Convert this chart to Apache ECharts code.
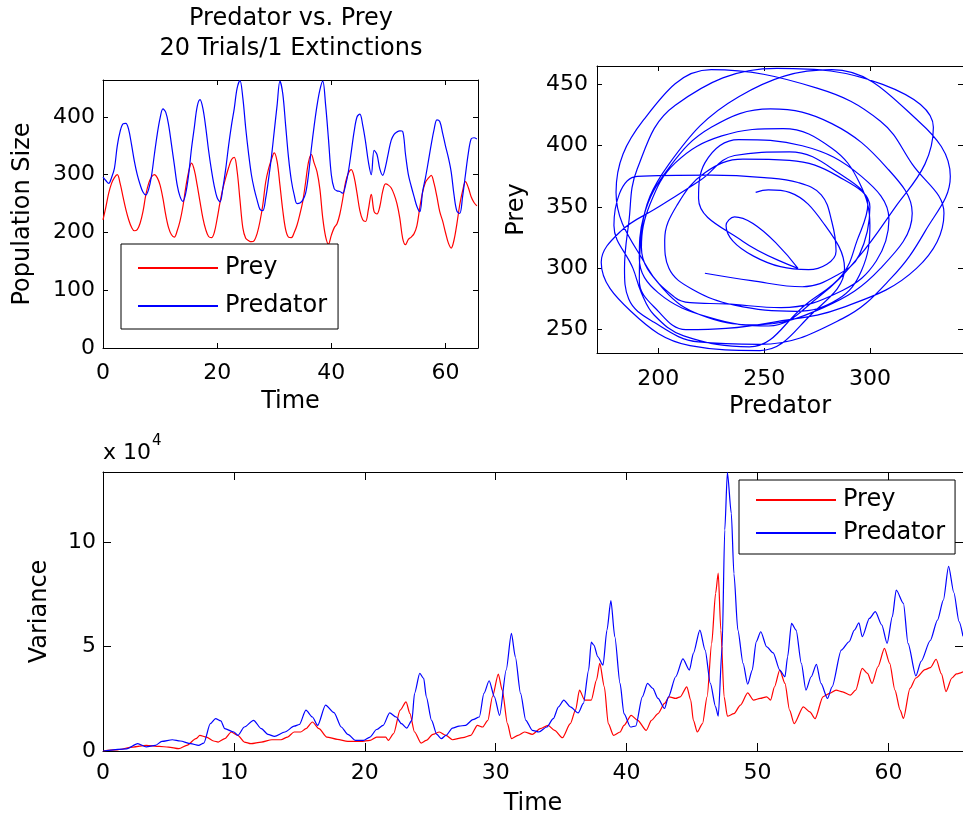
<!DOCTYPE html>
<html><head><meta charset="utf-8">
<script src="https://cdn.jsdelivr.net/npm/echarts@6/dist/echarts.min.js"></script>
<style>html,body{margin:0;padding:0;background:#fff;overflow:hidden}#c{width:963px;height:819px}</style>
</head><body><div id="c"></div>
<script>
// ---- population time series (common time grid) ----
const time = [0,0.5,1,1.5,2,2.5,3,3.5,4,4.5,5,5.5,6,6.5,7,7.5,8,8.5,9,9.5,
10,10.5,11,11.5,12,12.5,13,13.5,14,14.5,15,15.5,16,16.5,17,17.5,18,18.5,19,19.5,
20,20.5,21,21.5,22,22.5,23,23.5,24,24.5,25,25.5,26,26.5,27,27.5,28,28.5,29,29.5,
30,30.5,31,31.5,32,32.5,33,33.5,34,34.5,35,35.5,36,36.5,37,37.5,38,38.5,39,39.5,
40,40.5,41,41.5,42,42.5,43,43.5,44,44.5,45,45.5,46,46.5,47,47.5,48,48.5,49,49.5,
50,50.5,51,51.5,52,52.5,53,53.5,54,54.5,55,55.5,56,56.5,57,57.5,58,58.5,59,59.5,
60,60.5,61,61.5,62,62.5,63,63.5,64,64.5,65,65.5];
const preyPop = [222,244,268,285,295,300,285,262,240,222,
209,203,205,216,236,265,285,296,300,295,
282,259,230,208,196,192,203,220,245,278,
305,320,308,282,253,225,205,193,191,200,
224,252,276,295,312,326,330,306,256,208,
190,186,184,186,198,219,248,287,310,326,
338,323,282,238,205,192,191,200,213,232,
254,287,322,335,320,305,275,225,193,180,
195,208,215,232,258,287,303,309,296,268,
238,222,219,240,266,236,232,245,271,284,
282,277,266,250,225,190,179,188,192,198,
212,243,270,287,294,299,285,262,236,220,
200,182,173,187,215,248,272,288,278,262,
252,246];
const predPop = [296,290,285,295,311,350,375,388,389,378,
352,323,300,283,270,265,275,298,335,370,
398,414,408,386,352,317,282,262,254,268,
300,345,382,418,430,415,382,342,308,280,
260,253,277,310,350,385,415,450,463,433,
381,337,300,275,256,240,238,259,292,330,
375,420,462,440,385,330,290,265,250,251,
256,268,300,345,385,420,447,462,421,362,
300,276,272,271,268,282,306,340,375,400,
405,386,357,322,300,342,335,310,299,314,
338,360,370,374,376,375,335,300,280,262,
245,236,271,295,323,352,378,395,392,372,
350,330,305,265,237,233,262,300,337,362,
364,362];

// ---- variance (units of 10^4) ----
const varPreyTime = [0,1,2.3,3.3,4.3,5,5.8,6.4,7.1,7.4,7.9,8.45,8.8,9.3,9.8,10.3,10.8,11.3,12.1,12.9,
13.6,14.1,14.6,15.1,15.5,16,16.5,17.1,17.9,18.7,19.7,20.4,20.9,21.6,21.8,22.2,22.7,23.15,23.45,23.8,
24.3,24.7,25.2,25.7,26.2,26.7,27.5,28.1,28.6,29,29.4,29.75,30.2,30.5,30.9,31.2,31.7,32.2,32.8,33.4,
34,34.5,35.1,35.7,36.1,36.4,36.8,37.3,37.7,37.95,38.3,38.6,39,39.5,39.8,40.35,40.85,41.5,41.9,42.4,
42.9,43.25,43.75,44.1,44.6,44.9,45.1,45.4,45.8,46.15,46.5,46.8,47,47.2,47.45,47.7,48.2,48.7,49.25,49.7,
50.2,50.7,51,51.3,51.7,52.1,52.45,52.8,53.5,54,54.4,55,55.5,56,56.5,57.1,57.5,58,58.4,58.75,
59.2,59.7,60.1,60.5,60.9,61.15,61.65,62.1,62.8,63.2,63.65,64.05,64.4,64.85,65.2,65.7];
const varPrey = [0,0.05,0.19,0.27,0.22,0.19,0.11,0.27,0.59,0.75,0.67,0.48,0.43,0.59,0.91,0.75,0.43,0.35,0.43,0.54,
0.54,0.67,0.91,0.91,1.07,1.39,1.07,0.67,0.56,0.46,0.46,0.51,0.67,0.67,0.51,0.83,1.96,2.36,1.79,0.91,
0.38,0.51,0.8,0.91,0.75,0.54,0.64,0.75,1.23,1.15,1.47,2.6,3.69,2.92,1.31,0.59,0.75,0.91,0.8,1.07,
1.23,0.99,0.64,1.31,1.96,2.92,2.44,2.44,3.4,4.2,3.08,1.31,0.75,0.91,1.23,1.71,1.47,0.99,1.47,1.79,
2.28,2.6,2.52,2.6,3.08,2.44,1.47,0.91,1.31,2.6,5.16,7.56,8.53,5.8,2.6,1.67,1.79,2.2,2.79,2.44,
2.52,2.6,2.44,3.08,3.88,3.24,1.96,1.31,2.12,1.88,1.55,2.6,2.76,2.92,2.84,2.68,2.92,3.96,3.72,3.24,
4.04,4.92,4.2,2.92,1.96,1.56,3.0,3.5,3.9,4.0,4.4,3.7,2.85,3.5,3.7,3.8];
const varPredTime = [0,1.8,2.65,3.3,4,4.5,5.3,5.9,6.7,7.3,7.7,8.2,8.6,9,9.3,10,10.3,10.8,11.5,12.1,
12.6,13.1,13.9,14.6,15,15.5,16,16.4,17,17.65,18.2,18.7,19.3,19.9,20.4,20.9,21.4,21.9,22.4,22.8,
23.2,23.6,23.8,24.2,24.5,24.7,25.1,25.5,25.85,26.2,26.7,27.2,27.7,28.25,28.75,29.1,29.5,29.9,30.3,30.8,
31.2,31.5,31.9,32.3,32.8,33.3,33.9,34.4,34.8,35.2,35.7,36.3,36.7,37.1,37.3,37.5,37.8,38.2,38.5,38.8,
39.1,39.5,39.8,40.3,40.7,41.2,41.6,42,42.4,42.9,43.2,43.75,44.3,44.8,45.1,45.6,46,46.4,46.8,47,
47.3,47.5,47.7,48,48.2,48.5,48.9,49.25,49.6,49.9,50.25,50.7,51.2,51.7,52.1,52.3,52.6,52.95,53.35,53.7,
54.1,54.5,54.85,55.35,55.7,56.4,57,57.4,57.75,58,58.55,59,59.5,59.9,60.3,60.6,61.15,61.5,62.1,62.5,
63.2,63.75,64.2,64.6,65,65.4,65.7];
const varPred = [0,0.1,0.35,0.2,0.27,0.46,0.54,0.48,0.35,0.27,0.38,1.31,1.55,1.44,1.07,0.91,0.75,1.15,1.47,1.07,
0.8,0.7,0.91,1.19,1.27,1.96,1.63,1.23,2.2,1.84,1.15,0.8,0.51,0.51,0.67,1.03,1.23,1.83,1.63,1.31,
1.1,1.47,2.76,3.72,3.48,2.6,1.47,0.8,0.59,0.75,1.1,1.19,1.23,1.5,1.63,2.76,3.37,2.6,1.71,3.88,
5.64,4.52,2.76,1.47,0.99,0.91,1.15,1.55,2.12,2.44,2.12,1.83,2.28,3.88,5.22,5.08,4.52,4.12,5.8,7.21,
5.48,3.24,1.79,1.15,1.2,2.6,3.24,3.0,2.52,2.04,2.6,3.56,4.42,3.88,4.68,5.8,4.84,3.24,2.12,1.67,
5.0,10.6,13.36,11.4,8.5,5.8,4.2,3.2,3.88,5.24,5.72,5.0,4.71,3.88,3.56,4.52,6.12,5.8,4.2,2.92,
3.56,4.15,3.24,2.52,3.08,4.84,5.24,5.8,6.15,5.48,6.36,6.68,6.04,5.16,6.44,7.72,7.08,5.16,3.6,4.3,
5.3,6.28,7.24,8.85,7.6,6.2,5.5];

// ---- tick labels ----
const popTicks = [0,100,200,300,400];
const popTimeTicks = [0,20,40,60];
const phaseXTicks = [200,250,300];
const phaseYTicks = [250,300,350,400,450];
const varTimeTicks = [0,10,20,30,40,50,60];
const varTicks = [0,5,10];

const FONT = '"DejaVu Sans", "Liberation Sans", sans-serif';
const BLACK = '#000';
const RED = '#ff0000';
const BLUE = '#0000ff';

function mainAxis(o) {
  return Object.assign({
    type: 'value',
    splitLine: { show: false },
    axisLine: { show: true, onZero: false, lineStyle: { color: BLACK, width: 1 } },
    axisTick: { show: true, inside: true, length: o.tickLen, customValues: o.ticks, lineStyle: { color: BLACK } },
    axisLabel: { show: true, customValues: o.ticks, color: BLACK, fontSize: 22, fontFamily: FONT, margin: o.margin },
    nameLocation: 'middle',
    nameTextStyle: { color: BLACK, fontSize: 24, fontFamily: FONT }
  }, o.extra);
}
function mirrorAxis(o) {
  return Object.assign({
    type: 'value',
    splitLine: { show: false },
    axisLine: { show: true, onZero: false, lineStyle: { color: BLACK, width: 1 } },
    axisTick: { show: true, inside: true, length: o.tickLen, customValues: o.ticks, lineStyle: { color: BLACK } },
    axisLabel: { show: false }
  }, o.extra);
}

const tMax = 65.7;

const option = {
  animation: false,
  backgroundColor: '#fff',
  title: {
    text: 'Predator vs. Prey\n20 Trials/1 Extinctions',
    left: 291, top: 3.5, textAlign: 'center', padding: 0,
    textStyle: { fontSize: 24, fontWeight: 'normal', fontFamily: FONT, color: BLACK, lineHeight: 30 }
  },
  grid: [
    { left: 103, top: 80, width: 375, height: 268 },
    { left: 597, top: 66, width: 375, height: 287 },
    { left: 103, top: 472, width: 869, height: 279 }
  ],
  xAxis: [
    mainAxis({ ticks: popTimeTicks, tickLen: 5, margin: 14, extra: { gridIndex: 0, position: 'bottom', min: 0, max: tMax, name: 'Time', nameGap: 42 } }),
    mirrorAxis({ ticks: popTimeTicks, tickLen: 5, extra: { gridIndex: 0, position: 'top', min: 0, max: tMax } }),
    mainAxis({ ticks: phaseXTicks, tickLen: 5, margin: 15, extra: { gridIndex: 1, position: 'bottom', min: 171, max: 344, name: 'Predator', nameGap: 42 } }),
    mirrorAxis({ ticks: phaseXTicks, tickLen: 5, extra: { gridIndex: 1, position: 'top', min: 171, max: 344 } }),
    mainAxis({ ticks: varTimeTicks, tickLen: 8, margin: 11, extra: { gridIndex: 2, position: 'bottom', min: 0, max: tMax, name: 'Time', nameGap: 41 } }),
    mirrorAxis({ ticks: varTimeTicks, tickLen: 8, extra: { gridIndex: 2, position: 'top', min: 0, max: tMax } })
  ],
  yAxis: [
    mainAxis({ ticks: popTicks, tickLen: 5, margin: 8, extra: { gridIndex: 0, position: 'left', min: 0, max: 464, name: 'Population Size', nameGap: 68 } }),
    mirrorAxis({ ticks: popTicks, tickLen: 5, extra: { gridIndex: 0, position: 'right', min: 0, max: 464 } }),
    mainAxis({ ticks: phaseYTicks, tickLen: 5, margin: 9, extra: { gridIndex: 1, position: 'left', min: 231, max: 465, name: 'Prey', nameGap: 68 } }),
    mirrorAxis({ ticks: phaseYTicks, tickLen: 5, extra: { gridIndex: 1, position: 'right', min: 231, max: 465 } }),
    mainAxis({ ticks: varTicks, tickLen: 8, margin: 7, extra: { gridIndex: 2, position: 'left', min: 0, max: 13.38, name: 'Variance', nameGap: 51 } }),
    mirrorAxis({ ticks: varTicks, tickLen: 8, extra: { gridIndex: 2, position: 'right', min: 0, max: 13.38 } })
  ],
  legend: [
    {
      data: ['Prey', 'Predator'], orient: 'vertical', left: 121, top: 244,
      padding: [12, 11, 11, 16], itemGap: 14, itemWidth: 80, itemHeight: 14,
      borderColor: BLACK, borderWidth: 1, borderRadius: 0, backgroundColor: '#fff',
      selectedMode: false, itemStyle: { opacity: 0 },
      textStyle: { fontSize: 24, fontFamily: FONT, color: BLACK, padding: [0, 0, 0, 2] }
    },
    {
      data: ['Prey', 'Predator'], orient: 'vertical', left: 739, top: 480,
      padding: [8, 10, 9, 16], itemGap: 9, itemWidth: 80, itemHeight: 14,
      borderColor: BLACK, borderWidth: 1, borderRadius: 0, backgroundColor: '#fff',
      selectedMode: false, itemStyle: { opacity: 0 },
      textStyle: { fontSize: 24, fontFamily: FONT, color: BLACK, padding: [0, 0, 0, 2] }
    }
  ],
  graphic: [
    { type: 'text', x: 103, y: 453.5, style: { text: 'x 10', fontSize: 22, fontFamily: FONT, fill: BLACK, verticalAlign: 'middle' } },
    { type: 'text', x: 152, y: 441, style: { text: '4', fontSize: 15, fontFamily: FONT, fill: BLACK, verticalAlign: 'middle' } }
  ],
  series: [
    { name: 'Prey', type: 'line', xAxisIndex: 0, yAxisIndex: 0, symbol: 'none', color: RED, smooth: 0.35,
      lineStyle: { color: RED, width: 1.2 }, data: time.map((t, i) => [t, preyPop[i]]) },
    { name: 'Predator', type: 'line', xAxisIndex: 0, yAxisIndex: 0, symbol: 'none', color: BLUE, smooth: 0.35,
      lineStyle: { color: BLUE, width: 1.2 }, data: time.map((t, i) => [t, predPop[i]]) },
    { name: 'Phase', type: 'line', xAxisIndex: 2, yAxisIndex: 2, symbol: 'none', color: BLUE, smooth: 0.4,
      lineStyle: { color: BLUE, width: 1.2 }, data: preyPop.map((p, i) => [p, predPop[i]]) },
    { name: 'Prey', type: 'line', xAxisIndex: 4, yAxisIndex: 4, symbol: 'none', color: RED, smooth: 0.25, smoothMonotone: 'x',
      lineStyle: { color: RED, width: 1.2 }, data: varPreyTime.map((t, i) => [t, varPrey[i]]) },
    { name: 'Predator', type: 'line', xAxisIndex: 4, yAxisIndex: 4, symbol: 'none', color: BLUE, smooth: 0.25, smoothMonotone: 'x',
      lineStyle: { color: BLUE, width: 1.2 }, data: varPredTime.map((t, i) => [t, varPred[i]]) }
  ]
};

const chart = echarts.init(document.getElementById('c'), null, { renderer: 'canvas' });
chart.setOption(option);
</script>
</body></html>
